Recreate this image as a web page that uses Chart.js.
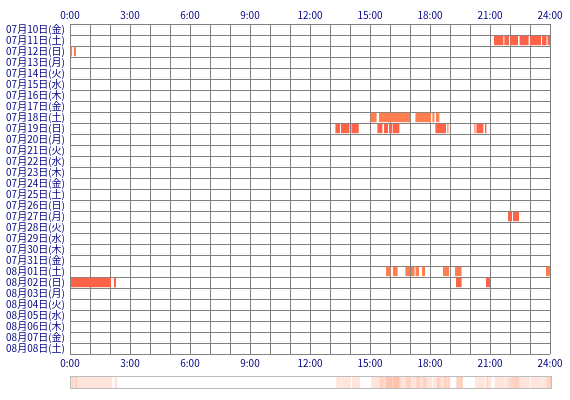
<!DOCTYPE html>
<html lang="ja">
<head>
<meta charset="utf-8">
<title>睡眠ログ</title>
<script src="https://cdn.jsdelivr.net/npm/chart.js@4.4.1/dist/chart.umd.min.js"></script>
<style>
  body { margin: 0; background: #fff; }
  #contenedor { position: relative; width: 570px; height: 400px; }
  #grafico { position: absolute; left: 0; top: 0; }
  #tira { position: absolute; left: 70px; top: 376px; width: 480px; height: 11px; border: 1px solid #bdbdbd; }
</style>
</head>
<body>
<div id="contenedor">
  <canvas id="grafico" width="570" height="374"></canvas>
  <div id="tira"><canvas id="resumen" width="480" height="11"></canvas></div>
</div>
<script>
// fechas (filas)
const fechas = [
    "07月10日(金)", "07月11日(土)", "07月12日(日)", "07月13日(月)", "07月14日(火)",
    "07月15日(水)", "07月16日(木)", "07月17日(金)", "07月18日(土)", "07月19日(日)",
    "07月20日(月)", "07月21日(火)", "07月22日(水)", "07月23日(木)", "07月24日(金)",
    "07月25日(土)", "07月26日(日)", "07月27日(月)", "07月28日(火)", "07月29日(水)",
    "07月30日(木)", "07月31日(金)", "08月01日(土)", "08月02日(日)", "08月03日(月)",
    "08月04日(火)", "08月05日(水)", "08月06日(木)", "08月07日(金)", "08月08日(土)"
];

// etiquetas del eje horario
const horas = ["0:00", "3:00", "6:00", "9:00", "12:00", "15:00", "18:00", "21:00", "24:00"];

// tramos [fecha, inicio, fin] en horas
const tramosCoral = [
    ["07月12日(日)", 0.0, 0.1], ["07月12日(日)", 0.2, 0.3],
    ["07月18日(土)", 15.03, 15.33], ["07月18日(土)", 15.45, 17.0], ["07月18日(土)", 17.27, 18.05],
    ["07月18日(土)", 18.12, 18.22], ["07月18日(土)", 18.3, 18.47],
    ["08月01日(土)", 15.8, 16.03], ["08月01日(土)", 16.15, 16.38], ["08月01日(土)", 16.77, 17.0],
    ["08月01日(土)", 17.05, 17.23], ["08月01日(土)", 17.28, 17.45], ["08月01日(土)", 17.6, 17.75],
    ["08月01日(土)", 18.65, 18.95], ["08月01日(土)", 19.25, 19.58], ["08月01日(土)", 23.8, 24.0]
];

const tramosTomate = [
    ["07月11日(土)", 21.2, 21.67], ["07月11日(土)", 21.72, 21.95], ["07月11日(土)", 22.02, 22.4],
    ["07月11日(土)", 22.48, 22.93], ["07月11日(土)", 23.0, 23.55], ["07月11日(土)", 23.6, 23.83],
    ["07月11日(土)", 23.88, 24.0],
    ["07月19日(日)", 13.27, 13.5], ["07月19日(日)", 13.55, 13.97], ["07月19日(日)", 14.07, 14.44],
    ["07月19日(日)", 15.37, 15.62], ["07月19日(日)", 15.7, 15.9], ["07月19日(日)", 15.95, 16.12],
    ["07月19日(日)", 16.15, 16.47], ["07月19日(日)", 18.27, 18.8], ["07月19日(日)", 18.87, 18.92],
    ["07月19日(日)", 20.22, 20.27], ["07月19日(日)", 20.32, 20.67], ["07月19日(日)", 20.75, 20.82],
    ["07月27日(月)", 21.9, 22.1], ["07月27日(月)", 22.15, 22.45],
    ["08月02日(日)", 0.05, 2.05], ["08月02日(日)", 2.2, 2.3],
    ["08月02日(日)", 19.3, 19.58], ["08月02日(日)", 20.8, 21.0]
];

const fuente = { family: "'Noto Sans CJK JP', 'DejaVu Sans', sans-serif", size: 10 };
const azul = "#000080";
const gris = "#808080";

function aPuntos(tramos) {
    return tramos.map(t => ({ x: [t[1], t[2]], y: t[0] }));
}

function etiquetaHora(valor) {
    return valor % 3 === 0 ? horas[valor / 3] : "";
}

Chart.defaults.font = fuente;

const ejeHoras = {
    type: "linear",
    min: 0,
    max: 24,
    ticks: {
        stepSize: 1,
        autoSkip: false,
        maxRotation: 0,
        color: azul,
        padding: 3,
        callback: etiquetaHora
    }
};

new Chart(document.getElementById("grafico").getContext("2d"), {
    type: "bar",
    data: {
        labels: fechas,
        datasets: [
            { data: aPuntos(tramosCoral), backgroundColor: "#ff7f50", grouped: false },
            { data: aPuntos(tramosTomate), backgroundColor: "#ff6347", grouped: false }
        ]
    },
    options: {
        indexAxis: "y",
        responsive: false,
        animation: false,
        barPercentage: 1,
        categoryPercentage: 0.85,
        layout: { padding: { right: 20 } },
        plugins: { legend: { display: false }, tooltip: { enabled: false } },
        scales: {
            x: {
                ...ejeHoras,
                position: "top",
                grid: { color: gris, drawTicks: false },
                border: { color: gris },
                afterFit: s => { s.height = 24; }
            },
            x2: {
                ...ejeHoras,
                position: "bottom",
                grid: { display: false, drawTicks: false },
                border: { display: false },
                afterFit: s => { s.height = 20; }
            },
            y: {
                type: "category",
                offset: true,
                grid: { color: gris, offset: true, drawTicks: false },
                border: { color: gris },
                ticks: { color: azul, padding: 5, autoSkip: false },
                afterFit: s => { s.width = 70; }
            }
        }
    }
});

// tira resumen: todos los tramos superpuestos
new Chart(document.getElementById("resumen").getContext("2d"), {
    type: "bar",
    data: {
        labels: ["全体"],
        datasets: [{
            data: aPuntos(tramosCoral.concat(tramosTomate)).map(p => ({ x: p.x, y: "全体" })),
            backgroundColor: "rgba(255, 127, 80, 0.2)"
        }]
    },
    options: {
        indexAxis: "y",
        responsive: false,
        animation: false,
        barPercentage: 1,
        categoryPercentage: 1,
        plugins: { legend: { display: false }, tooltip: { enabled: false } },
        scales: {
            x: { type: "linear", min: 0, max: 24, display: false },
            y: { type: "category", display: false, offset: true }
        }
    }
});
</script>
</body>
</html>
